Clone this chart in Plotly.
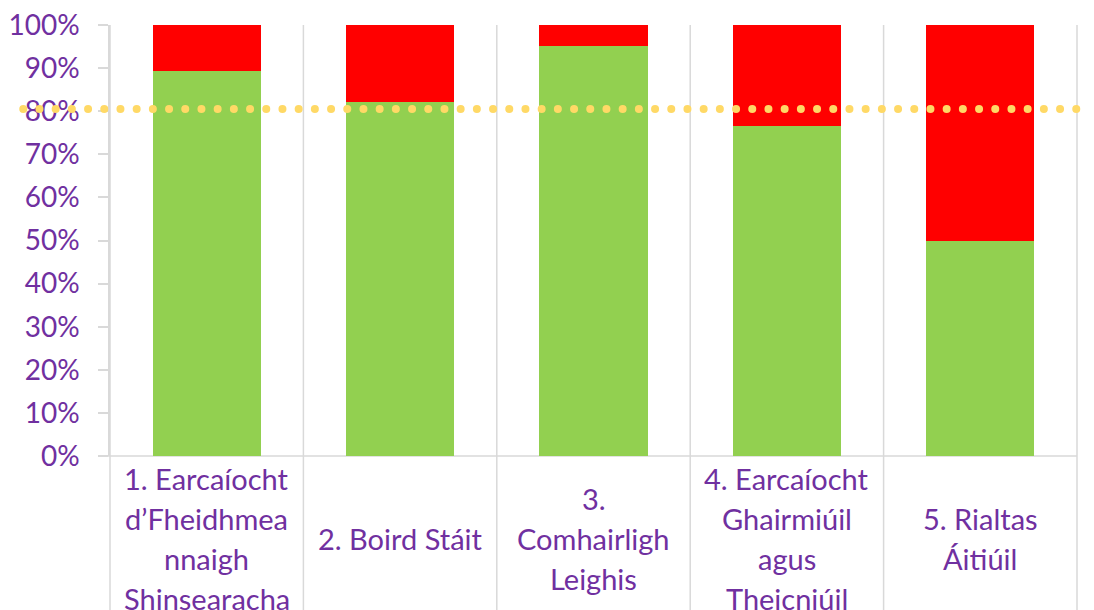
import plotly.graph_objects as go

categories = [
    "1. Earcaíocht<br>d’Fheidhmea<br>nnaigh<br>Shinsearacha",
    "2. Boird Stáit",
    "3.<br>Comhairligh<br>Leighis",
    "4. Earcaíocht<br>Ghairmiúil<br>agus<br>Theicniúil",
    "5. Rialtas<br>Áitiúil",
]
green_vals = [0.893, 0.821, 0.951, 0.766, 0.499]
red_vals = [1 - v for v in green_vals]
target = 0.805
tick_vals = [i / 10 for i in range(11)]
tick_text = [f"{i * 10}%" for i in range(11)]

PURPLE = "#7030A0"
GRID = "#D9D9D9"
FONT = "Lato"
PLOT_H = 431
PLOT_W = 967

x_idx = list(range(len(categories)))

fig = go.Figure()
fig.add_trace(go.Bar(x=x_idx, y=green_vals, marker_color="#92D050", marker_line_width=0))
fig.add_trace(go.Bar(x=x_idx, y=red_vals, marker_color="#FF0000", marker_line_width=0))

# dotted target line: round dots running past both ends of the plot area
n_dots = 67
for k in range(n_dots):
    fig.add_shape(type="circle", xref="paper", yref="y",
                  xsizemode="pixel", ysizemode="pixel",
                  xanchor=-0.0897 + k * (16.2 / PLOT_W), yanchor=target,
                  x0=-4, x1=4, y0=-4, y1=4,
                  fillcolor="#FFD966", line={"width": 0})

# category boundaries: vertical lines running through the label area
for i in range(len(categories) + 1):
    fig.add_shape(type="line", xref="paper", yref="paper", x0=i / 5, x1=i / 5,
                  y0=1, y1=-0.36, line={"color": GRID, "width": 1.5}, layer="below")
fig.add_shape(type="line", xref="paper", yref="paper", x0=-10 / PLOT_W, x1=1,
              y0=0, y1=0, line={"color": GRID, "width": 1.5}, layer="below")

# category labels, one annotation per line, centred vertically in the label band
line_gap = 40
for i, label in enumerate(categories):
    lines = label.split("<br>")
    for j, txt in enumerate(lines):
        offset = (j - (len(lines) - 1) / 2) * line_gap
        fig.add_annotation(x=i, y=-(82 + offset) / PLOT_H, xref="x", yref="paper",
                           text=txt, showarrow=False, yanchor="middle", xanchor="center",
                           font={"family": FONT, "size": 29, "color": PURPLE})

# the page body adds an 8px margin, so the figure is 8px smaller each way
fig.update_layout(
    width=1086, height=602, barmode="stack", bargap=0.44, showlegend=False,
    plot_bgcolor="white", paper_bgcolor="white",
    margin={"l": 102, "r": 17, "t": 17, "b": 154, "autoexpand": False},
    xaxis={"range": [-0.5, 4.5], "showticklabels": False, "showgrid": False,
           "zeroline": False, "showline": False, "ticks": "", "automargin": False},
    yaxis={"range": [0, 1], "tickvals": tick_vals, "ticktext": tick_text,
           "showgrid": False, "zeroline": False, "showline": True, "automargin": False,
           "linecolor": GRID, "linewidth": 1.5, "ticks": "outside", "ticklen": 10,
           "tickcolor": GRID, "tickwidth": 1.5, "ticklabelstandoff": 13,
           "ticklabeloverflow": "allow",
           "tickfont": {"family": FONT, "size": 28, "color": PURPLE}},
)

fig.write_html("out.html")
